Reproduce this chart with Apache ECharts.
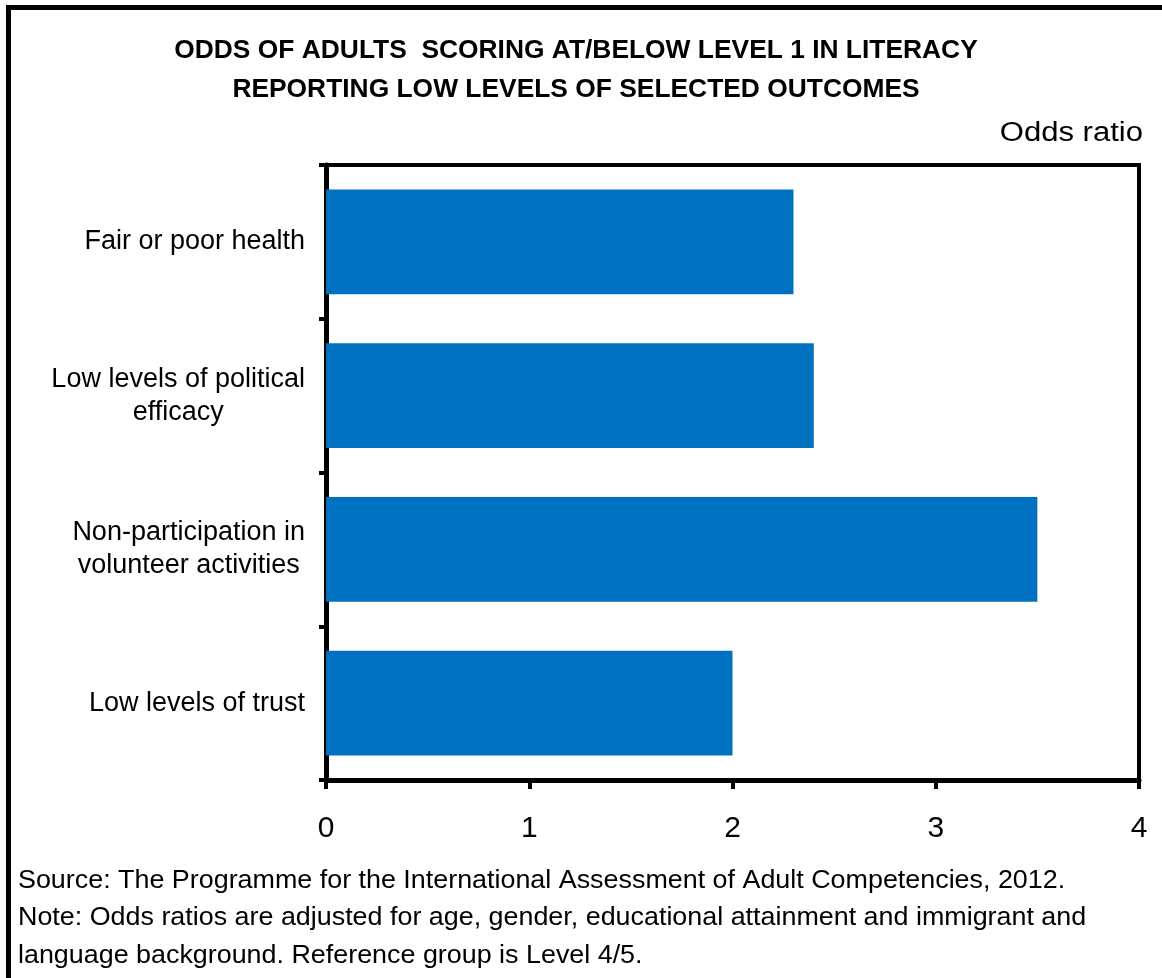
<!DOCTYPE html>
<html>
<head>
<meta charset="utf-8">
<script src="https://cdn.jsdelivr.net/npm/echarts@6/dist/echarts.min.js"></script>
<style>html,body{margin:0;padding:0;background:#fff;}#c{width:1162px;height:978px;}</style>
</head>
<body>
<div id="c"></div>
<script>
var categories = ['Fair or poor health', 'Low levels of political\nefficacy', 'Non-participation in\nvolunteer activities', 'Low levels of trust'];
var oddsRatios = [2.3, 2.4, 3.5, 2.0];
var xTicks = [0, 1, 2, 3, 4];
var titleLines = ['ODDS OF ADULTS  SCORING AT/BELOW LEVEL 1 IN LITERACY', 'REPORTING LOW LEVELS OF SELECTED OUTCOMES'];
var unitLabel = 'Odds ratio';
var notes = ['Source: The Programme for the International Assessment of Adult Competencies, 2012.',
  'Note: Odds ratios are adjusted for age, gender, educational attainment and immigrant and',
  'language background. Reference group is Level 4/5.'];

var FONT = '"Liberation Sans", Arial, sans-serif';
var chart = echarts.init(document.getElementById('c'), null, {renderer: 'canvas'});
var graphics = [
  {type: 'rect', shape: {x: 8.5, y: 7.5, width: 1200, height: 1000}, style: {fill: 'none', stroke: '#000', lineWidth: 5}, silent: true},
  {type: 'text', x: 576, y: 51, scaleX: 1.055, style: {text: titleLines[0], font: 'bold 25px ' + FONT, fill: '#000', textAlign: 'center', textVerticalAlign: 'middle'}},
  {type: 'text', x: 576, y: 90, scaleX: 1.055, style: {text: titleLines[1], font: 'bold 25px ' + FONT, fill: '#000', textAlign: 'center', textVerticalAlign: 'middle'}},
  {type: 'text', x: 1143, y: 134, scaleX: 1.15, style: {text: unitLabel, font: '27px ' + FONT, fill: '#000', textAlign: 'right', textVerticalAlign: 'middle'}}
];
notes.forEach(function (t, i) {
  graphics.push({type: 'text', x: 18, y: 881 + i * 37.5, scaleX: 1.075, style: {text: t, font: '25px ' + FONT, fill: '#000', textAlign: 'left', textVerticalAlign: 'middle'}});
});

chart.setOption({
  animation: false,
  backgroundColor: '#fff',
  textStyle: {fontFamily: FONT},
  grid: {left: 326, right: 23, top: 165, bottom: 198, show: true, borderColor: '#000', borderWidth: 4, backgroundColor: 'transparent', containLabel: false},
  xAxis: {
    type: 'value', min: xTicks[0], max: xTicks[xTicks.length - 1], interval: 1,
    axisLine: {show: true, lineStyle: {color: '#000', width: 5}},
    axisTick: {show: true, length: 9, lineStyle: {color: '#000', width: 4}},
    splitLine: {show: false},
    axisLabel: {color: '#000', fontSize: 30, margin: 34, fontFamily: FONT}
  },
  yAxis: {
    type: 'category', data: categories, inverse: true,
    axisLine: {show: true, lineStyle: {color: '#000', width: 5}},
    axisTick: {show: true, length: 7, alignWithLabel: false, lineStyle: {color: '#000', width: 4}},
    splitLine: {show: false},
    axisLabel: {
      color: '#000', fontSize: 27, lineHeight: 33, align: 'right', margin: 21, fontFamily: FONT,
      formatter: function (v) {
        return v.split('\n').map(function (s) { return '{c|' + s + '}'; }).join('\n');
      },
      rich: {c: {align: 'center', fontSize: 27, lineHeight: 33, color: '#000', fontFamily: FONT}}
    }
  },
  series: [{
    type: 'bar', data: oddsRatios, barCategoryGap: '32%',
    itemStyle: {color: '#0070C0'}, silent: true
  }],
  graphic: graphics
});
</script>
</body>
</html>
